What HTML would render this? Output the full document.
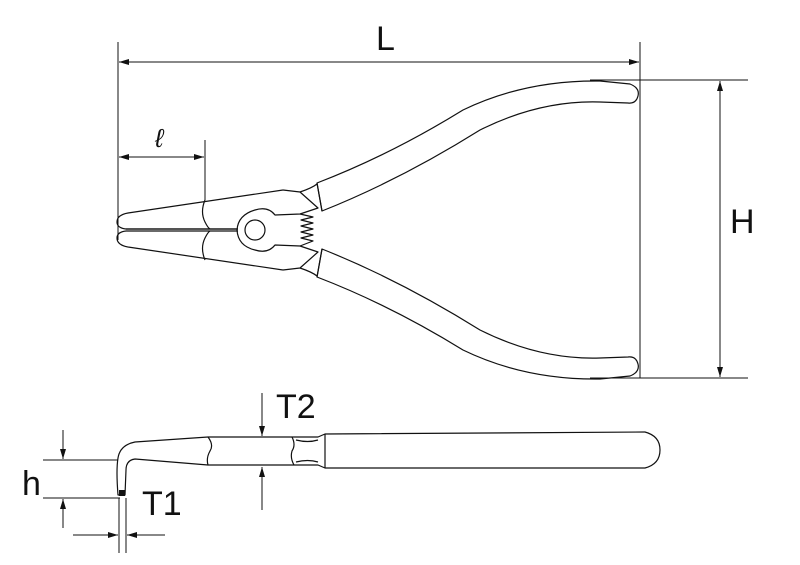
<!DOCTYPE html>
<html><head><style>body{margin:0;background:#fff}svg{display:block}text{font-family:"Liberation Sans",sans-serif;fill:#111}</style></head><body>
<svg width="800" height="565" viewBox="0 0 800 565" xmlns="http://www.w3.org/2000/svg">
<defs><marker id="a" viewBox="0 0 10 6" refX="10" refY="3" markerWidth="10" markerHeight="6" orient="auto" markerUnits="userSpaceOnUse"><path d="M0,0L10,3L0,6z" fill="#111"/></marker></defs>
<g stroke="#111" stroke-width="1" fill="none">
<line x1="118" y1="42" x2="118" y2="240"/><line x1="640" y1="42" x2="640" y2="378"/>
<line x1="380" y1="62" x2="119" y2="62" marker-end="url(#a)"/>
<line x1="380" y1="62" x2="639" y2="62" marker-end="url(#a)"/>
<line x1="205" y1="140" x2="205" y2="200"/>
<line x1="160" y1="157" x2="119" y2="157" marker-end="url(#a)"/>
<line x1="160" y1="157" x2="204" y2="157" marker-end="url(#a)"/>
<line x1="590" y1="80" x2="748" y2="80"/><line x1="590" y1="378" x2="748" y2="378"/>
<line x1="720" y1="230" x2="720" y2="81" marker-end="url(#a)"/>
<line x1="720" y1="230" x2="720" y2="377" marker-end="url(#a)"/>
</g>
<g stroke="#111" stroke-width="1.2" fill="none" stroke-linejoin="round">
<path d="M283,190 L128,213 Q117,215 117,222 Q117,228 126,229 L238,229"/>
<path d="M126,231 Q117,232 117,238 Q117,245 128,247 L283,270"/>
<path d="M126,229 L238,229 M126,231 L238,231"/>
<path d="M205,200 Q200,212 205,222 Q208,228 210,229 M205,260 Q200,248 205,238 Q208,232 210,231"/>
<path d="M283,190 L300,192 L318,208 L300,214 L275,215 Q268,206 255,210 Q238,215 237,230 Q238,246 255,250 Q268,254 275,245 L300,246 L318,252 L300,268 L283,270"/>
<path d="M300,192 Q312,188 317,184 M300,268 Q312,272 317,276"/>
<circle cx="255" cy="230" r="10"/>
<path d="M300,214 L313,217 L301,220 L313,223 L301,226 L313,229 L301,232 L313,235 L301,238 L313,241 L300,246"/>
<path d="M317,183 Q390,155 463,110 Q525,80 600,81 L630,84 Q640,88 638,96 Q636,104 628,103 L600,102 Q540,100 480,130 Q400,180 322,211 Z"/>
<path d="M317,183 L322,211"/>
<path d="M317,277 Q390,305 463,350 Q525,380 600,379 L630,376 Q640,372 638,364 Q636,356 628,357 L600,358 Q540,360 480,330 Q400,280 322,249 Z"/>
<path d="M317,277 L322,249"/>
<path d="M118,495 Q116,470 118,458 Q120,445 135,442 L208,437 L318,437 L325,434 L645,432 Q660,436 660,450 Q660,464 645,468 L325,468 L318,465 L208,465 L135,459 Q126,460 126,470 L125,495 Z"/>
<path d="M208,437 Q214,445 210,451 Q206,458 208,465 M292,437 Q296,445 292,451 Q290,458 294,465 M325,434 L325,468 M296,440 Q308,443 318,440 M296,462 Q308,459 318,462"/>
<rect x="119" y="490" width="6" height="6" fill="#111" stroke="none"/>
</g>
<g stroke="#111" stroke-width="1" fill="none">
<line x1="43" y1="460" x2="118" y2="460"/><line x1="43" y1="498" x2="120" y2="498"/>
<line x1="63" y1="430" x2="63" y2="459" marker-end="url(#a)"/>
<line x1="63" y1="528" x2="63" y2="499" marker-end="url(#a)"/>
<line x1="119" y1="498" x2="119" y2="553"/><line x1="126" y1="498" x2="126" y2="553"/>
<line x1="73" y1="535" x2="118" y2="535" marker-end="url(#a)"/>
<line x1="165" y1="535" x2="127" y2="535" marker-end="url(#a)"/>
<line x1="262" y1="393" x2="262" y2="436" marker-end="url(#a)"/>
<line x1="262" y1="510" x2="262" y2="467" marker-end="url(#a)"/>
</g>
<text x="376" y="50" font-size="34">L</text>
<text x="155" y="147" font-size="26" font-style="italic">ℓ</text>
<text x="730" y="233" font-size="34">H</text>
<text x="276" y="418" font-size="34">T2</text>
<text x="22" y="495" font-size="34">h</text>
<text x="142" y="515" font-size="34">T1</text>
</svg>
</body></html>
